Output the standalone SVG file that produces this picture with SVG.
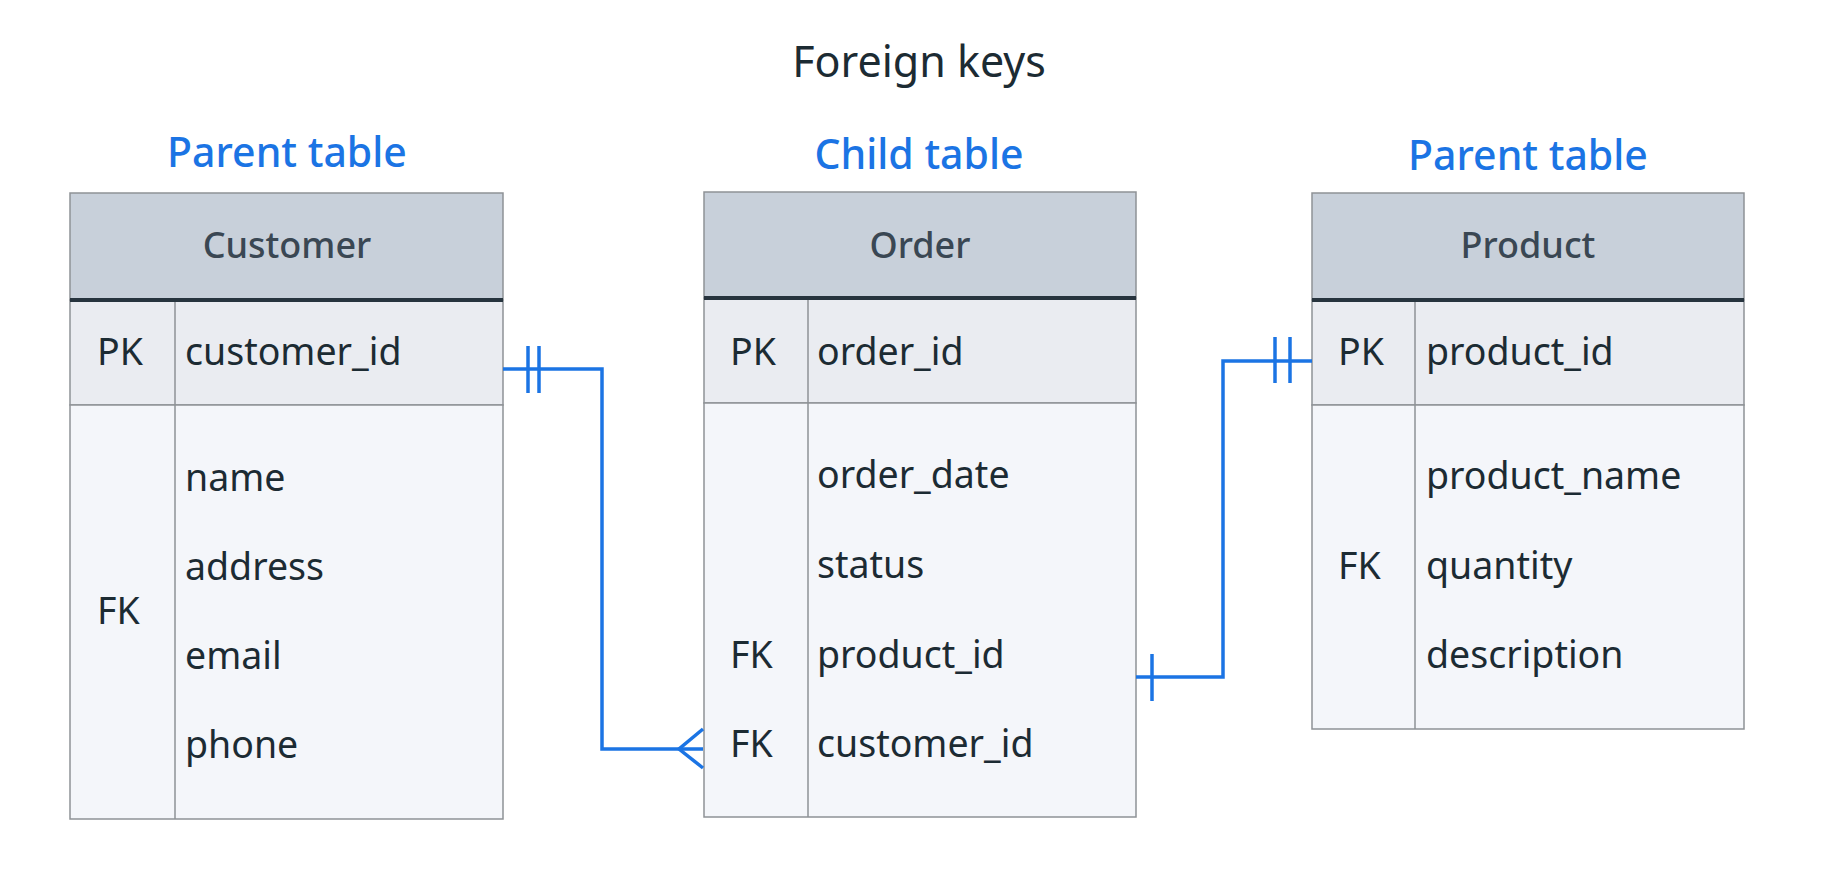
<svg xmlns="http://www.w3.org/2000/svg" width="1828" height="888" viewBox="0 0 1828 888">
<style>
text{font-family:"Noto Sans","Open Sans","DejaVu Sans",sans-serif;}
.title{font-size:43px;fill:#1c2b33;text-anchor:middle;}
.label{font-size:41px;fill:#1b74e4;text-anchor:middle;font-weight:500;}
.hdr{fill:#c8d0da;stroke:#8e9296;stroke-width:1.5;}
.pk{fill:#eaecf1;stroke:#8e9296;stroke-width:1.5;}
.body{fill:#f4f6fa;stroke:#8e9296;stroke-width:1.5;}
.thick{stroke:#27343e;stroke-width:4;}
.div{stroke:#8e9296;stroke-width:1.5;}
.hname{font-size:36px;fill:#3a4753;text-anchor:middle;font-weight:500;}
.cell{font-size:37.5px;fill:#1c2b33;}
.conn{fill:none;stroke:#1b74e4;stroke-width:3.5;}
</style>
<rect width="1828" height="888" fill="#ffffff"/>
<text class="title" x="919" y="77">Foreign keys</text>
<text class="label" x="287" y="167">Parent table</text>
<text class="label" x="919" y="169">Child table</text>
<text class="label" x="1528" y="170">Parent table</text>

<g id="customer">
<rect class="hdr" x="70" y="193" width="433" height="107"/>
<rect class="pk" x="70" y="300" width="433" height="105"/>
<rect class="body" x="70" y="405" width="433" height="414"/>
<line class="thick" x1="70" y1="300" x2="503" y2="300"/>
<line class="div" x1="175" y1="302" x2="175" y2="819"/>
<text class="hname" x="287" y="258">Customer</text>
<text class="cell" x="97" y="365">PK</text>
<text class="cell" x="185" y="365">customer_id</text>
<text class="cell" x="97" y="624">FK</text>
<text class="cell" x="185" y="491">name</text>
<text class="cell" x="185" y="580">address</text>
<text class="cell" x="185" y="669">email</text>
<text class="cell" x="185" y="758">phone</text>
</g>

<g id="order">
<rect class="hdr" x="704" y="192" width="432" height="106"/>
<rect class="pk" x="704" y="298" width="432" height="105"/>
<rect class="body" x="704" y="403" width="432" height="414"/>
<line class="thick" x1="704" y1="298" x2="1136" y2="298"/>
<line class="div" x1="808" y1="300" x2="808" y2="817"/>
<text class="hname" x="920" y="258">Order</text>
<text class="cell" x="730" y="365">PK</text>
<text class="cell" x="817" y="365">order_id</text>
<text class="cell" x="817" y="488">order_date</text>
<text class="cell" x="817" y="578">status</text>
<text class="cell" x="730" y="668">FK</text>
<text class="cell" x="817" y="668">product_id</text>
<text class="cell" x="730" y="757">FK</text>
<text class="cell" x="817" y="757">customer_id</text>
</g>

<g id="product">
<rect class="hdr" x="1312" y="193" width="432" height="107"/>
<rect class="pk" x="1312" y="300" width="432" height="105"/>
<rect class="body" x="1312" y="405" width="432" height="324"/>
<line class="thick" x1="1312" y1="300" x2="1744" y2="300"/>
<line class="div" x1="1415" y1="302" x2="1415" y2="729"/>
<text class="hname" x="1528" y="258">Product</text>
<text class="cell" x="1338" y="365">PK</text>
<text class="cell" x="1426" y="365">product_id</text>
<text class="cell" x="1338" y="579">FK</text>
<text class="cell" x="1426" y="489">product_name</text>
<text class="cell" x="1426" y="579">quantity</text>
<text class="cell" x="1426" y="668">description</text>
</g>

<g id="connectors">
<path class="conn" d="M503 369 H602 V749 H703"/>
<line class="conn" x1="528" y1="346" x2="528" y2="393"/>
<line class="conn" x1="539" y1="346" x2="539" y2="393"/>
<path class="conn" d="M703 729 L679 749 L703 768"/>
<path class="conn" d="M1136 677 H1223 V361 H1312"/>
<line class="conn" x1="1152" y1="654" x2="1152" y2="701"/>
<line class="conn" x1="1275" y1="337" x2="1275" y2="383"/>
<line class="conn" x1="1290" y1="337" x2="1290" y2="383"/>
</g>
</svg>
